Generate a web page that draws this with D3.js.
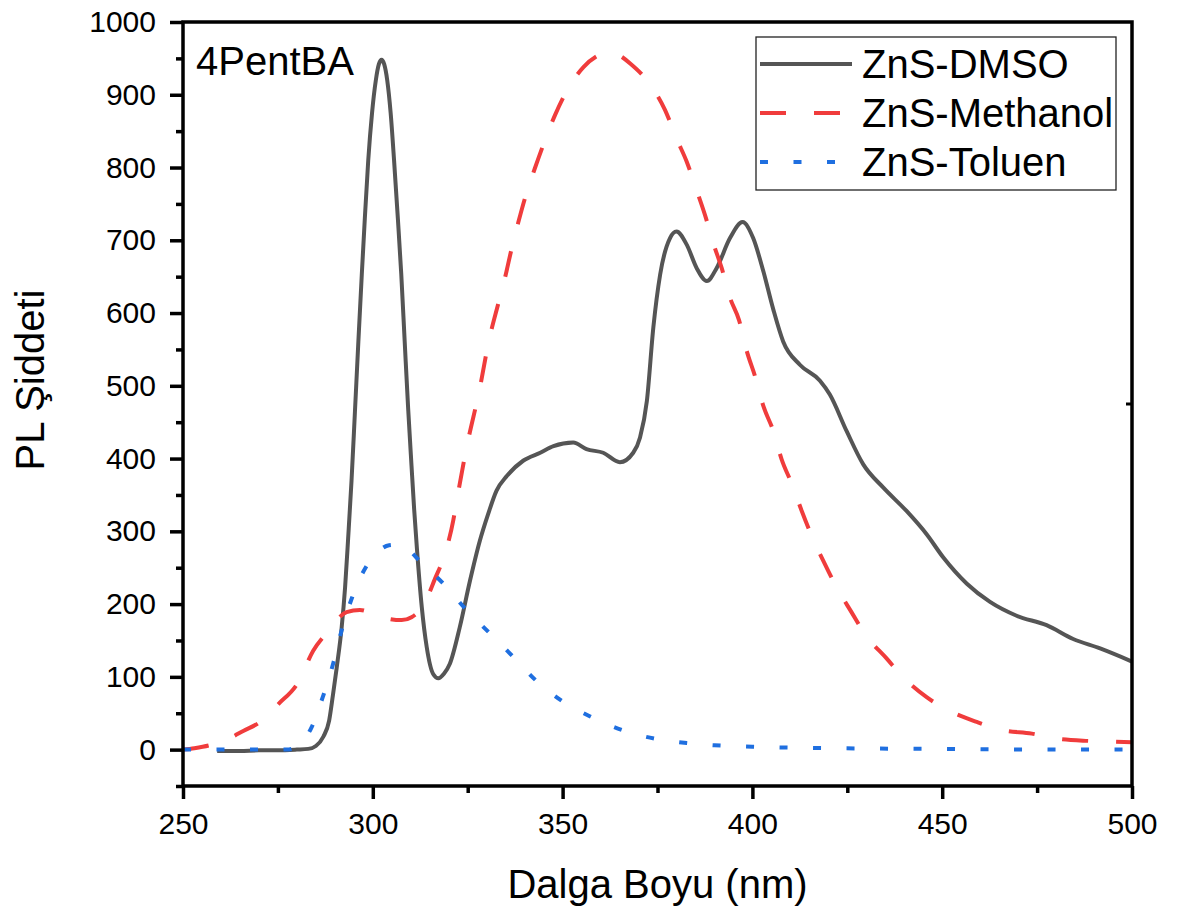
<!DOCTYPE html>
<html>
<head>
<meta charset="utf-8">
<script src="https://cdn.jsdelivr.net/npm/d3@7"></script>
<style>
  body { margin: 0; background: #fff; }
  svg { font-family: "Liberation Sans", Arial, sans-serif; }
</style>
</head>
<body>
<svg id="chart" width="1180" height="913"></svg>
<script>
// wavelength (nm) and PL intensity
var dmsoX = [259, 265, 270, 275, 280, 283, 285, 287, 288.5, 289.5, 290.5, 291.8, 292.7, 293.5, 294.4, 295.3, 296.2, 297.1, 297.9, 298.8, 299.8, 300.8, 301.6, 302.3, 303, 303.8, 304.7, 305.6, 306.6, 307.5, 308.4, 309.3, 310.2, 310.9, 311.6, 312.9, 314.2, 315.9, 317.3, 318.7, 320.3, 322.9, 325.6, 328.2, 330.4, 332.6, 335.3, 339.6, 344.1, 347.6, 352.8, 356.3, 360.7, 365.1, 368.6, 370.4, 372.2, 373.9, 375.7, 378.3, 380, 382.7, 385.3, 388, 390.6, 394.1, 397.4, 400.2, 402.9, 405.5, 408.1, 412.5, 417.8, 420.4, 424.8, 429.2, 434.5, 440.6, 445.9, 450.3, 456.5, 462.6, 469.6, 477.5, 484.5, 491.6, 500];
var dmsoY = [-2, -2, -1, -1, 0, 1, 5, 18, 40, 75, 113, 168, 223, 290, 370, 465, 561, 653, 730, 810, 875, 920, 942, 948, 942, 920, 875, 810, 730, 653, 561, 470, 390, 330, 278, 196, 141, 104, 98, 104, 118, 168, 232, 287, 324, 356, 376, 397, 408, 417, 422, 413, 408, 395, 408, 429, 479, 580, 653, 703, 712, 694, 662, 644, 662, 703, 725, 703, 657, 605, 561, 529, 507, 488, 438, 392, 360, 328, 296, 264, 228, 203, 184, 171, 152, 139, 121];

var methX = [250, 253, 257, 262, 266, 270.3, 275, 280.4, 284.3, 287.9, 290, 293.1, 296.6, 300.1, 304, 307.6, 310.2, 313.3, 316.4, 319, 321.2, 322.1, 324.7, 328.2, 330.5, 333.1, 334.8, 336.6, 338.3, 340.5, 342.7, 345.4, 348, 351.5, 355.5, 359, 362.5, 365, 367.8, 373.5, 377, 380, 382.7, 385.3, 387.5, 389.7, 391.9, 394.1, 396.5, 398.5, 400.7, 402.9, 405.5, 407.7, 410.4, 413, 415.6, 419.1, 422.2, 426.1, 429.6, 435.4, 439.6, 445.9, 451.6, 459.1, 465.7, 473.6, 480.2, 488.5, 495.5, 500];
var methY = [0, 2, 6, 15, 26, 38, 62, 93, 136, 161, 175, 189, 192, 187, 180, 178, 182, 198, 235, 269, 315, 342, 415, 497, 560, 614, 648, 689, 724, 765, 799, 838, 872, 909, 938, 953, 959, 954, 943, 911, 879, 840, 808, 769, 735, 696, 662, 621, 590, 548, 513, 472, 438, 399, 365, 328, 294, 255, 223, 189, 159, 125, 100, 72, 54, 38, 27, 22, 15, 12, 11, 10];

var tolX = [250, 260, 268.5, 277.3, 280, 282, 283.9, 287, 289.6, 291.8, 294.4, 298.2, 301, 304.3, 307, 310, 312, 318.4, 324.3, 330.6, 336.9, 343, 349.8, 357.5, 365.6, 374.3, 382.7, 390, 400, 420, 450, 480, 500];
var tolY = [0, 0, 0, 0, 4, 14, 31, 75, 119, 164, 207, 251, 270, 281, 282, 272, 261, 229, 194, 161, 128, 95, 67, 45, 27, 15, 9, 6, 4, 2, 1, 0, 0];

var seriesNames = ["ZnS-DMSO", "ZnS-Methanol", "ZnS-Toluen"];
var xTicks = [250, 300, 350, 400, 450, 500];
var yTicks = [0, 100, 200, 300, 400, 500, 600, 700, 800, 900, 1000];

var svg = d3.select("#chart");
var plotL = 183, plotR = 1132, plotT = 22, plotB = 786;

var x = d3.scaleLinear().domain([250, 500]).range([plotL, plotR]);
var y = d3.scaleLinear().domain([-50, 1000]).range([plotB, plotT]);

var series = [
  { name: seriesNames[0], xs: dmsoX, ys: dmsoY, color: "#555555", dash: null },
  { name: seriesNames[1], xs: methX, ys: methY, color: "#f03c3c", dash: "26,28" },
  { name: seriesNames[2], xs: tolX, ys: tolY, color: "#1f6fe0", dash: "8,25.5" }
];

var line = d3.line()
  .x(function(d) { return x(d[0]); })
  .y(function(d) { return y(d[1]); })
  .curve(d3.curveMonotoneX);

// curves
series.forEach(function(s) {
  var pts = s.xs.map(function(v, i) { return [v, s.ys[i]]; });
  svg.append("path")
    .datum(pts)
    .attr("d", line)
    .attr("fill", "none")
    .attr("stroke", s.color)
    .attr("stroke-width", 4)
    .attr("stroke-dasharray", s.dash);
});

// axes
var fmt = d3.format("d");
var xAxis = d3.axisBottom(x).tickValues(xTicks).tickFormat(fmt).tickSize(13).tickSizeOuter(0).tickPadding(14);
var xMinor = d3.axisBottom(x).tickValues(d3.range(275, 500, 50)).tickSize(7).tickFormat("");
var yAxis = d3.axisLeft(y).tickValues(yTicks).tickFormat(fmt).tickSize(13).tickSizeOuter(0).tickPadding(14);
var yMinor = d3.axisLeft(y).tickValues(d3.range(-50, 1000, 100)).tickSize(7).tickFormat("");

function styleAxis(g) {
  g.select(".domain").remove();
  g.selectAll("line").attr("stroke", "#000").attr("stroke-width", 3.5);
  g.selectAll("text").attr("font-size", 30).attr("fill", "#000")
    .attr("font-family", "'Liberation Sans', Arial, sans-serif");
}

svg.append("g").attr("transform", "translate(0," + plotB + ")").call(xMinor).call(styleAxis);
svg.append("g").attr("transform", "translate(0," + plotB + ")").call(xAxis).call(styleAxis);
svg.append("g").attr("transform", "translate(" + plotL + ",0)").call(yMinor).call(styleAxis);
svg.append("g").attr("transform", "translate(" + plotL + ",0)").call(yAxis).call(styleAxis);

// odd short inward mark on the right axis
svg.append("line")
  .attr("x1", plotR - 6).attr("x2", plotR)
  .attr("y1", y(475)).attr("y2", y(475))
  .attr("stroke", "#000").attr("stroke-width", 3);

// frame
svg.append("rect")
  .attr("x", plotL).attr("y", plotT)
  .attr("width", plotR - plotL).attr("height", plotB - plotT)
  .attr("fill", "none").attr("stroke", "#000").attr("stroke-width", 3.5);

// axis titles
svg.append("text")
  .attr("x", (plotL + plotR) / 2).attr("y", 898)
  .attr("text-anchor", "middle").attr("font-size", 40)
  .text("Dalga Boyu (nm)");

svg.append("text")
  .attr("transform", "translate(44,380) rotate(-90)")
  .attr("text-anchor", "middle").attr("font-size", 40)
  .text("PL Şiddeti");

svg.append("text")
  .attr("x", 196).attr("y", 75)
  .attr("font-size", 40)
  .text("4PentBA");

// legend
var lg = svg.append("g");
lg.append("rect")
  .attr("x", 756).attr("y", 37).attr("width", 360).attr("height", 153)
  .attr("fill", "#fff").attr("stroke", "#222").attr("stroke-width", 1.3);

series.forEach(function(s, i) {
  var cy = 64 + i * 49;
  lg.append("line")
    .attr("x1", 760).attr("x2", 852).attr("y1", cy).attr("y2", cy)
    .attr("stroke", s.color).attr("stroke-width", 4)
    .attr("stroke-dasharray", s.dash);
  lg.append("text")
    .attr("x", 862).attr("y", cy + 14)
    .attr("font-size", 40)
    .text(s.name);
});
</script>
</body>
</html>
